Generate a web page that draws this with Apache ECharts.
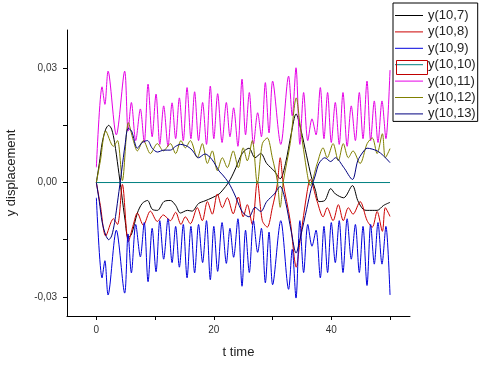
<!DOCTYPE html>
<html><head><meta charset="utf-8">
<script src="https://cdn.jsdelivr.net/npm/echarts@6/dist/echarts.min.js"></script>
<style>html,body{margin:0;padding:0;background:#fff}#c{width:488px;height:366px}</style>
</head><body><div id="c"></div>
<script>
// ---- data ----
const seriesNames = ['y(10,7)','y(10,8)','y(10,9)','y(10,10)','y(10,11)','y(10,12)','y(10,13)'];
const xTickValues = [0, 10, 20, 30, 40, 50];
const xLabelValues = [0, 20, 40];
const yTickValues = [-0.03, -0.015, 0, 0.015, 0.03];
const yLabelValues = [-0.03, 0, 0.03];

// fast oscillation (y(10,11) magenta, y(10,9) blue)
const tFast = [
  0, 0.97, 1.45, 1.99, 3.4, 4.82, 5.4, 5.96,
  6.7, 7.49, 8.15, 8.8, 9.5, 10.16, 10.8, 11.46,
  12.2, 12.89, 13.5, 14.13, 14.8, 15.44, 16.1, 16.73,
  17.4, 18.09, 18.75, 19.4, 20.0, 20.65, 21.4, 22.13,
  22.75, 23.37, 24.1, 24.8, 25.4, 26.04, 26.75, 27.46,
  28.1, 28.77, 29.4, 30.01, 31.4, 32.73, 33.35, 33.99,
  34.65, 35.29, 36.0, 36.71, 37.4, 38.13, 38.75, 39.37,
  40.0, 40.68, 41.35, 41.99, 42.7, 43.4, 44.1, 44.77,
  45.4, 46.08, 46.7, 47.32, 47.95, 48.63, 49.3, 50.0
];
const y11 = [
  0.004, 0.0251, 0.0205, 0.0292, 0.0125, 0.0292, 0.0135, 0.021,
  0.011, 0.0193, 0.0105, 0.0258, 0.012, 0.0232, 0.010, 0.0201,
  0.0095, 0.0209, 0.0115, 0.0222, 0.011, 0.0249, 0.0115, 0.0238,
  0.011, 0.021, 0.010, 0.0253, 0.0115, 0.0233, 0.0105, 0.021,
  0.012, 0.0196, 0.0095, 0.0271, 0.0125, 0.0236, 0.010, 0.0183,
  0.012, 0.0262, 0.013, 0.0266, 0.010, 0.0279, 0.0175, 0.0301,
  0.010, 0.0236, 0.011, 0.0167, 0.0125, 0.0249, 0.0115, 0.0236,
  0.0105, 0.021, 0.010, 0.0236, 0.0095, 0.0201, 0.011, 0.0236,
  0.0115, 0.0266, 0.011, 0.0214, 0.0105, 0.0214, 0.0115, 0.0295
];
const y9 = [
  -0.004, -0.025, -0.0205, -0.0295, -0.0125, -0.029, -0.0135, -0.0237,
  -0.011, -0.0195, -0.0105, -0.026, -0.012, -0.0234, -0.010, -0.0201,
  -0.0095, -0.021, -0.0115, -0.0222, -0.011, -0.025, -0.0115, -0.0237,
  -0.011, -0.021, -0.010, -0.0255, -0.0115, -0.0233, -0.0105, -0.0212,
  -0.012, -0.0196, -0.0095, -0.0272, -0.0125, -0.0236, -0.010, -0.0183,
  -0.012, -0.0263, -0.013, -0.0268, -0.010, -0.028, -0.0175, -0.0303,
  -0.010, -0.0236, -0.011, -0.0167, -0.0125, -0.025, -0.0115, -0.0236,
  -0.0105, -0.021, -0.010, -0.0236, -0.0095, -0.0201, -0.011, -0.0236,
  -0.0115, -0.027, -0.011, -0.0214, -0.0105, -0.0214, -0.0115, -0.0295
];

// medium oscillation (y(10,12) olive, y(10,8) red)
const tMid = [
  0, 0.68, 1.6, 2.9, 3.6, 4.43, 5.45, 6.3,
  6.98, 8.0, 9.19, 10.38, 11.4, 12.6, 13.5, 14.4,
  15.15, 16.0, 17.19, 18.04, 18.9, 19.74, 20.6, 21.45,
  22.3, 23.3, 24.17, 25.0, 25.7, 26.55, 27.4, 28.26,
  29.1, 29.96, 30.8, 31.3, 31.8, 33.0, 34.04, 34.7,
  35.9, 36.4, 37.6, 38.6, 39.3, 40.3, 41.2, 42.04,
  42.9, 43.7, 44.9, 46.1, 46.98, 47.8, 48.7, 49.2,
  50.0
];
const y12 = [
  0, 0.0057, 0.0135, 0.0095, 0.011, 0.0005, 0.0157, 0.011,
  0.0083, 0.011, 0.0076, 0.0102, 0.0083, 0.0102, 0.0076, 0.011,
  0.0091, 0.011, 0.0065, 0.0102, 0.005, 0.0083, 0.0031, 0.0065,
  0.0039, 0.0083, 0.0039, 0.0091, 0.0057, 0.011, -0.0003, 0.0102,
  0.0117, 0.0065, 0.0005, -0.0065, 0.0, 0.0102, 0.0222, 0.0149,
  0.0023, -0.0008, 0.005, 0.0091, 0.0065, 0.0102, 0.0057, 0.0102,
  0.0065, 0.0083, 0.005, 0.0102, 0.0117, 0.0076, 0.0128, 0.0065,
  0.0089
];
const y8 = [
  0, -0.006, -0.014, -0.0095, -0.011, -0.0005, -0.0155, -0.011,
  -0.008, -0.0112, -0.0075, -0.0102, -0.0085, -0.010, -0.0078, -0.011,
  -0.009, -0.0108, -0.0066, -0.010, -0.005, -0.0083, -0.003, -0.0066,
  -0.004, -0.0082, -0.0038, -0.009, -0.0058, -0.011, 0.0003, -0.010,
  -0.0117, -0.0066, -0.0005, 0.0065, 0.0, -0.010, -0.0222, -0.015,
  -0.0023, 0.0008, -0.005, -0.009, -0.0066, -0.010, -0.0058, -0.010,
  -0.0066, -0.0083, -0.005, -0.010, -0.0117, -0.0076, -0.0128, -0.0066,
  -0.0089
];

// slow variation (y(10,7) black, y(10,13) navy)
const tSlow = [
  0, 0.5, 1.0, 1.6, 2.1, 2.6, 3.1, 3.7,
  4.3, 4.9, 5.4, 6.0, 6.98, 7.8, 8.7, 9.5,
  10.4, 11.5, 12.6, 13.5, 14.3, 15.5, 16.3, 17.4,
  18.5, 19.7, 20.9, 21.5, 22.5, 23.5, 24.6, 25.2,
  26.0, 27.0, 28.0, 29.0, 30.3, 31.3, 32.2, 33.2,
  34.0, 34.8, 35.8, 36.6, 37.3, 37.9, 38.9, 39.9,
  40.7, 42.1, 43.6, 44.5, 45.4, 46.1, 47.8, 48.9,
  50.0
];
const y7 = [
  0, 0.005, 0.0105, 0.014, 0.015, 0.014, 0.0105, 0.004,
  -0.003, -0.010, -0.0145, -0.0135, -0.008, -0.0055, -0.0047, -0.007,
  -0.0073, -0.005, -0.0047, -0.006, -0.008, -0.0073, -0.0075, -0.0055,
  -0.0048, -0.004, -0.003, -0.002, 0.0, 0.003, 0.007, 0.0083,
  0.009, 0.0065, 0.0076, 0.005, 0.003, 0.001, 0.005, 0.013,
  0.018, 0.014, 0.007, 0.0015, -0.002, -0.005, -0.0047, -0.0016,
  -0.003, -0.004, -0.0008, -0.0047, -0.007, -0.0073, -0.0073, -0.006,
  -0.0052
];
const y13 = [
  0, -0.005, -0.0105, -0.0138, -0.015, -0.014, -0.0105, -0.004,
  0.003, 0.010, 0.0142, 0.0135, 0.009, 0.0105, 0.011, 0.009,
  0.008, 0.0085, 0.0085, 0.0095, 0.010, 0.0095, 0.0085, 0.0065,
  0.0075, 0.006, 0.003, 0.002, 0.0, -0.003, -0.007, -0.0083,
  -0.009, -0.0065, -0.0076, -0.005, -0.003, -0.001, -0.005, -0.013,
  -0.0185, -0.014, -0.007, -0.0015, 0.002, 0.005, 0.0065, 0.0055,
  0.0065, 0.004, 0.0008, 0.0057, 0.008, 0.009, 0.0083, 0.007,
  0.0052
];

// flat (y(10,10) teal)
const tFlat = [0, 50];
const y10 = [0, 0];

// ---- chart ----
const colors = ['#000000', '#cc0000', '#0000dd', '#008080', '#e600e6', '#808000', '#000080'];
function pairs(t, v) { return t.map((x, i) => [x, v[i]]); }
const dataSets = [pairs(tSlow, y7), pairs(tMid, y8), pairs(tFast, y9), pairs(tFlat, y10),
                  pairs(tFast, y11), pairs(tMid, y12), pairs(tSlow, y13)];

const FONT = 'Liberation Sans, Arial, sans-serif';
const LINE_ICON = 'path://M0,0L0,0M0,5.5L28,5.5L28,6.5L0,6.5ZM28,12L28,12';
const chart = echarts.init(document.getElementById('c'), null, { renderer: 'canvas' });
chart.setOption({
  animation: false,
  backgroundColor: '#ffffff',
  grid: { left: 67, top: 30, right: 78, bottom: 50, containLabel: false, outerBoundsMode: 'none' },
  xAxis: {
    type: 'value', min: -5, max: 53.4,
    name: 't time', nameLocation: 'middle', nameGap: 30,
    nameTextStyle: { fontFamily: FONT, fontSize: 13, color: '#222' },
    axisLine: { show: true, onZero: false, lineStyle: { color: '#000', width: 1 } },
    axisTick: { show: true, inside: false, length: 4, customValues: xTickValues, lineStyle: { color: '#000' } },
    axisLabel: { customValues: xLabelValues, fontFamily: FONT, fontSize: 10, color: '#333', margin: 9 },
    splitLine: { show: false }
  },
  yAxis: {
    type: 'value', min: -0.035, max: 0.04,
    name: 'y displacement', nameLocation: 'middle', nameGap: 49,
    nameTextStyle: { fontFamily: FONT, fontSize: 13, color: '#222' },
    axisLine: { show: true, onZero: false, lineStyle: { color: '#000', width: 1 } },
    axisTick: { show: true, inside: false, length: 4, customValues: yTickValues, lineStyle: { color: '#000' } },
    axisLabel: { customValues: yLabelValues, fontFamily: FONT, fontSize: 10, color: '#333', margin: 10,
      formatter: v => v.toFixed(2).replace('.', ',') },
    splitLine: { show: false }
  },
  legend: {
    orient: 'vertical', left: 393, top: 3,
    padding: [6, 2, 1, 2], itemGap: 3.4, itemWidth: 28, itemHeight: 12,
    icon: LINE_ICON,
    itemStyle: { borderWidth: 0 },
    borderColor: '#000', borderWidth: 1, backgroundColor: '#fff',
    textStyle: { fontFamily: FONT, fontSize: 13, color: '#222' },
    data: seriesNames
  },
  graphic: [{
    type: 'rect', left: 394, top: 58, z: 100,
    shape: { width: 31, height: 14 },
    style: { fill: 'none', stroke: '#c00000', lineWidth: 1 }
  }],
  series: seriesNames.map((n, i) => ({
    name: n, type: 'line', data: dataSets[i], symbol: 'none',
    smooth: i === 3 ? false : 0.3,
    lineStyle: { width: 1, color: colors[i] },
    itemStyle: { color: colors[i] }
  }))
});
</script>
</body></html>
